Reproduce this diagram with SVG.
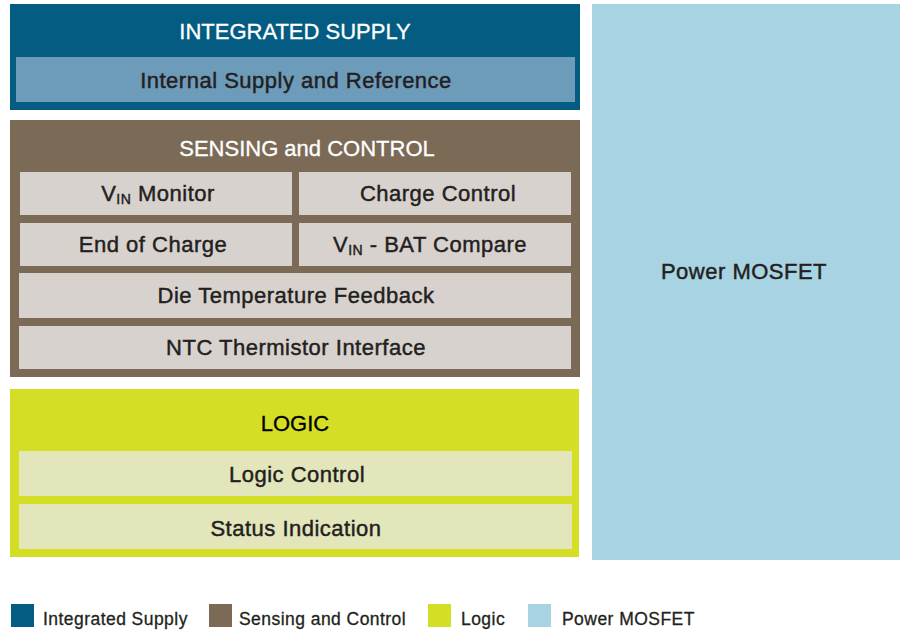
<svg xmlns="http://www.w3.org/2000/svg" width="901" height="630" viewBox="0 0 901 630">
<style>
text{font-family:"Liberation Sans",Arial,sans-serif;text-anchor:middle}
.title{font-size:22px;fill:#ffffff;stroke:#ffffff;stroke-width:0.3px}
.lbl{font-size:22px;fill:#231f20;stroke:#231f20;stroke-width:0.45px;letter-spacing:0.5px}
.sub{font-size:14px}
.leg{font-size:17.5px;fill:#231f20;stroke:#231f20;stroke-width:0.3px;text-anchor:start;letter-spacing:0.45px}
.sc{fill:#d8d2cf}
.lc{fill:#e3e6ba}
</style>
<rect width="901" height="630" fill="#ffffff"/>
<g id="integrated-supply">
<rect x="10" y="4" width="570" height="106" fill="#055c82"/>
<text class="title" x="295" y="39">INTEGRATED SUPPLY</text>
</g>
<g id="internal-supply">
<rect x="16" y="57" width="559" height="45" fill="#6d9bba"/>
<text class="lbl" x="296" y="88">Internal Supply and Reference</text>
</g>
<g id="power-mosfet">
<rect x="592" y="4" width="308" height="556" fill="#a8d3e2"/>
<text class="lbl" x="744" y="279">Power MOSFET</text>
</g>
<g id="sensing-control">
<rect x="10" y="120" width="570" height="257" fill="#7b6a55"/>
<text class="title" x="307" y="156">SENSING and CONTROL</text>
</g>
<g id="vin-monitor">
<rect class="sc" x="20" y="172" width="272" height="43"/>
<text class="lbl" x="158" y="201">V<tspan class="sub" dy="3">IN</tspan><tspan dy="-3"> Monitor</tspan></text>
</g>
<g id="charge-control">
<rect class="sc" x="299" y="172" width="272" height="43"/>
<text class="lbl" x="438" y="201">Charge Control</text>
</g>
<g id="end-of-charge">
<rect class="sc" x="20" y="223" width="272" height="43"/>
<text class="lbl" x="153" y="252">End of Charge</text>
</g>
<g id="vin-bat-compare">
<rect class="sc" x="299" y="223" width="272" height="43"/>
<text class="lbl" x="430" y="252">V<tspan class="sub" dy="3">IN</tspan><tspan dy="-3"> - BAT Compare</tspan></text>
</g>
<g id="die-temperature">
<rect class="sc" x="19" y="273" width="552" height="45"/>
<text class="lbl" x="296" y="303">Die Temperature Feedback</text>
</g>
<g id="ntc-thermistor">
<rect class="sc" x="19" y="326" width="552" height="43"/>
<text class="lbl" x="296" y="355">NTC Thermistor Interface</text>
</g>
<g id="logic">
<rect x="10" y="389" width="569" height="168" fill="#d4de25"/>
<text class="title" x="295" y="431" style="fill:#000000;stroke:#000000">LOGIC</text>
</g>
<g id="logic-control">
<rect class="lc" x="19" y="451" width="553" height="45"/>
<text class="lbl" x="297" y="482">Logic Control</text>
</g>
<g id="status-indication">
<rect class="lc" x="19" y="504" width="553" height="45"/>
<text class="lbl" x="296" y="536">Status Indication</text>
</g>
<g id="connectors"></g>
<g id="legend">
<rect x="11" y="604" width="23" height="23" fill="#055c82"/>
<text class="leg" x="43" y="625">Integrated Supply</text>
<rect x="209" y="604" width="23" height="23" fill="#7b6a55"/>
<text class="leg" x="239" y="625">Sensing and Control</text>
<rect x="428" y="604" width="23" height="23" fill="#d4de25"/>
<text class="leg" x="461" y="625">Logic</text>
<rect x="528" y="604" width="23" height="23" fill="#a8d3e2"/>
<text class="leg" x="562" y="625">Power MOSFET</text>
</g>
</svg>
